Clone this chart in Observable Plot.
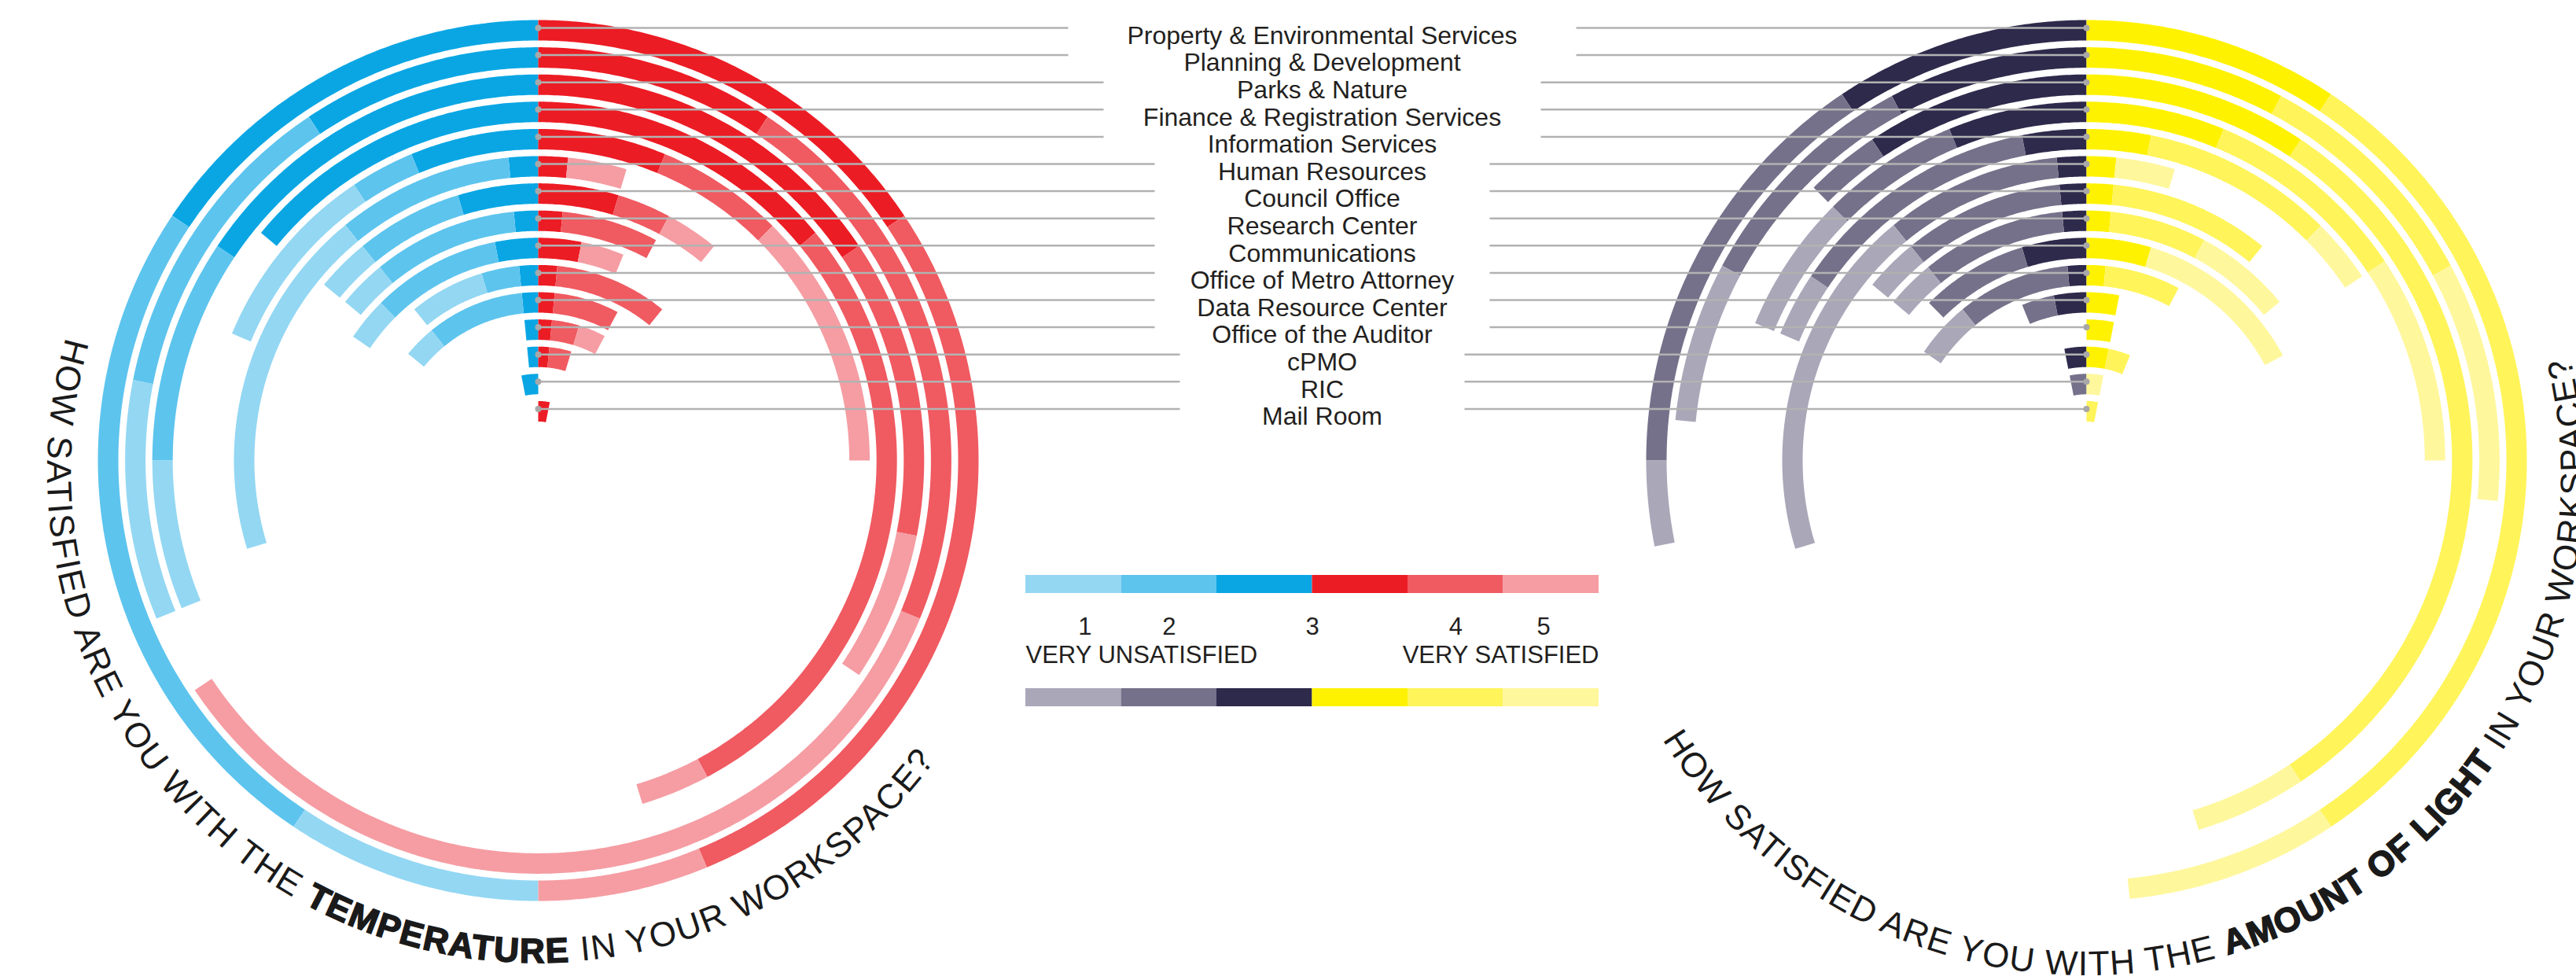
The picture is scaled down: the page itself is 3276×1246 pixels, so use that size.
<!DOCTYPE html>
<html><head><meta charset="utf-8">
<script src="https://cdn.jsdelivr.net/npm/d3@7"></script>
<script src="https://cdn.jsdelivr.net/npm/@observablehq/plot@0.6"></script>
<style>html,body{margin:0;padding:0;background:#fff;overflow:hidden}svg{display:block}</style>
</head><body><div id="chart"></div>
<script>
// ---------- DATA (respondents per answer; neutral "3" answers are drawn half on each side) ----------
const departments = ["Property & Environmental Services","Planning & Development","Parks & Nature","Finance & Registration Services","Information Services","Human Resources","Council Office","Research Center","Communications","Office of Metro Attorney","Data Resource Center","Office of the Auditor","cPMO","RIC","Mail Room"];

// Temperature
const tempVeryUnsatisfied = [3, 3, 2, 0, 3, 6, 1, 1, 1, 2, 1, 0, 0, 0, 0];
const tempUnsatisfied     = [8, 4, 3, 0, 1, 3, 2, 3, 3, 1, 3, 0, 0, 0, 0];
const tempNeutralLow      = [5, 3, 5, 4.5, 2, 0.5, 1.5, 0.5, 1, 0.5, 0.5, 0.5, 0.5, 1, 0];
const tempNeutralHigh     = [5, 3, 5, 4.5, 2, 0.5, 1.5, 0.5, 1, 0.5, 0.5, 0.5, 0.5, 0, 1];
const tempSatisfied       = [9, 7, 4, 9, 2, 0, 1, 2, 0, 3, 2, 1, 1, 0, 0];
const tempVerySatisfied   = [2, 11, 2, 1, 4, 1, 1, 0, 1, 0, 0, 1, 0, 0, 0];

// Amount of light
const lightVeryUnsatisfied = [1, 2, 0, 2, 1, 6, 1, 1, 0, 1.5, 0, 0, 0, 0, 0];
const lightUnsatisfied     = [5, 3, 1, 2, 4, 3, 3, 3, 2.5, 3, 1, 0, 0, 1, 0];
const lightNeutralLow      = [3, 2.5, 3, 2, 1, 0.5, 0.5, 0.5, 1.5, 0.5, 1, 0, 1, 0, 0];
const lightNeutralHigh     = [3, 2.5, 3, 2, 1, 0.5, 0.5, 0.5, 1.5, 0.5, 1, 1, 1, 0, 0];
const lightSatisfied       = [10, 3, 10, 3, 3, 0, 3, 2, 0, 2, 0, 0, 1, 0, 1];
const lightVerySatisfied   = [2.5, 3, 1.5, 3, 1, 1, 0, 2, 4, 0, 0, 0, 0, 1, 0];

const scoreLabels = ["1", "2", "3", "4", "5"];
const legendEnds = ["VERY UNSATISFIED", "VERY SATISFIED"];
const tempTitle = [["HOW SATISFIED ARE YOU WITH THE ", false], ["TEMPERATURE", true], [" IN YOUR WORKSPACE?", false]];
const lightTitle = [["HOW SATISFIED ARE YOU WITH THE ", false], ["AMOUNT OF LIGHT", true], [" IN YOUR WORKSPACE?", false]];

// ---------- STYLE / LAYOUT ----------
const tempColors  = ["#93d7f3", "#5dc4ee", "#0aa6e4", "#ec1c24", "#f05a61", "#f59da3"];
const lightColors = ["#a9a7b8", "#76718a", "#2e2a4b", "#fff200", "#fff45a", "#fff79c"];
const W = 3276, H = 1246;
const cy = 585, tempCx = 684, lightCx = 2653;
const R1 = 547, ringStep = 34.6, band = 26;
const unitDeg = 360 / 32;          // degrees of arc per respondent
const labelX = 1681;
const leaderHalf = [323, 323, 278, 278, 278, 213, 213, 213, 213, 213, 213, 213, 181, 181, 181];
const font = "'Liberation Sans', Arial, Helvetica, sans-serif";

const tempSeries = [tempVeryUnsatisfied, tempUnsatisfied, tempNeutralLow, tempNeutralHigh, tempSatisfied, tempVerySatisfied];
const lightSeries = [lightVeryUnsatisfied, lightUnsatisfied, lightNeutralLow, lightNeutralHigh, lightSatisfied, lightVerySatisfied];

function ringRadius(i) { return R1 - i * ringStep; }

function arcRows(series, colors, cx) {
  const rows = [];
  departments.forEach((dept, i) => {
    const r = ringRadius(i);
    const sides = [
      {dir: -1, parts: [2, 1, 0]},
      {dir: 1, parts: [3, 4, 5]}
    ];
    for (const side of sides) {
      let a = 0;
      side.parts.forEach(k => {
        const n = series[k][i];
        if (n > 0) {
          const a0 = a, a1 = a + n * unitDeg;
          const steps = Math.max(2, Math.ceil((a1 - a0) / 0.5));
          const seg = `${cx}-${i}-${k}`;
          for (let s = 0; s <= steps; s++) {
            const t = side.dir * (a0 + (a1 - a0) * s / steps) * Math.PI / 180;
            rows.push({seg, color: colors[k], dept, x: cx + r * Math.sin(t), y: cy - r * Math.cos(t)});
          }
        }
        a += n * unitDeg;
      });
    }
  });
  return rows;
}

const arcs = arcRows(tempSeries, tempColors, tempCx).concat(arcRows(lightSeries, lightColors, lightCx));

const leaders = [];
const tops = [];
departments.forEach((d, i) => {
  const y = cy - ringRadius(i) - 3;
  leaders.push({x1: tempCx, x2: labelX - leaderHalf[i], y});
  leaders.push({x1: labelX + leaderHalf[i], x2: lightCx, y});
  tops.push({x: tempCx, y}, {x: lightCx, y});
});
const labels = departments.map((d, i) => ({text: d, x: labelX, y: cy - ringRadius(i) + 7}));

// legend
const legX0 = 1304, legSeg = 121.5;
const legendRects = [];
tempColors.forEach((c, k) => legendRects.push({x1: legX0 + k * legSeg, x2: legX0 + (k + 1) * legSeg, y1: 731, y2: 754, color: c}));
lightColors.forEach((c, k) => legendRects.push({x1: legX0 + k * legSeg, x2: legX0 + (k + 1) * legSeg, y1: 875, y2: 898, color: c}));
const numPos = [0.62, 1.5, 3, 4.5, 5.42];
const legendNums = scoreLabels.map((t, k) => ({text: t, x: legX0 + numPos[k] * legSeg, y: 797}));

function curvedTitle(cx, ccy, r, a0, a1, parts, fontSize) {
  return (index, scales) => {
    const X = scales.x, Y = scales.y;
    const px = a => X(cx + r * Math.sin(a * Math.PI / 180));
    const py = a => Y(ccy - r * Math.cos(a * Math.PI / 180));
    const rr = Math.abs(X(cx + r) - X(cx));
    const id = "tp" + Math.round(cx);
    const g = d3.create("svg:g");
    g.append("path").attr("id", id).attr("fill", "none")
      .attr("d", `M${px(a0)},${py(a0)} A${rr},${rr} 0 ${Math.abs(a0 - a1) > 180 ? 1 : 0} 0 ${px(a1)},${py(a1)}`);
    const len = Math.PI * rr * Math.abs(a0 - a1) / 180;
    const text = g.append("text").attr("font-family", font).attr("font-size", fontSize)
      .attr("fill", "#1a1a1a").attr("text-anchor", "start");
    const tp = text.append("textPath").attr("href", "#" + id).attr("startOffset", 0)
      .attr("textLength", len).attr("lengthAdjust", "spacing");
    parts.forEach(([t, bold]) => {
      const s = tp.append("tspan").text(t);
      if (bold) s.attr("font-weight", 900).attr("stroke", "#1a1a1a").attr("stroke-width", 1.6);
    });
    return g.node();
  };
}

const plot = Plot.plot({
  width: W, height: H, margin: 0,
  x: {domain: [0, W], range: [0, W], axis: null},
  y: {domain: [0, H], range: [0, H], axis: null},
  color: {type: "identity"},
  style: {background: "#fff"},
  marks: [
    Plot.line(arcs, {x: "x", y: "y", z: "seg", stroke: "color", strokeWidth: band, strokeLinecap: "butt", curve: "linear"}),
    Plot.link(leaders, {x1: "x1", x2: "x2", y1: "y", y2: "y", stroke: "#b2b2b2", strokeWidth: 2.5}),
    Plot.dot(tops, {x: "x", y: "y", r: 4, fill: "#a8a8a8"}),
    Plot.text(labels, {x: "x", y: "y", text: "text", fontSize: 32, fontFamily: font, fill: "#231f20", textAnchor: "middle"}),
    Plot.rect(legendRects, {x1: "x1", x2: "x2", y1: "y1", y2: "y2", fill: "color"}),
    Plot.text(legendNums, {x: "x", y: "y", text: "text", fontSize: 31, fontFamily: font, fill: "#231f20"}),
    Plot.text([legendEnds[0]], {x: legX0, y: 833, text: d => d, textAnchor: "start", fontSize: 31, fontFamily: font, fill: "#231f20"}),
    Plot.text([legendEnds[1]], {x: legX0 + 6 * legSeg, y: 833, text: d => d, textAnchor: "end", fontSize: 31, fontFamily: font, fill: "#231f20"}),
    curvedTitle(tempCx, 600, 624, 285.9, 126, tempTitle, 44),
    curvedTitle(lightCx, 606, 634, 238.2, 76.2, lightTitle, 44)
  ]
});
document.getElementById("chart").appendChild(plot);
</script>
</body></html>
